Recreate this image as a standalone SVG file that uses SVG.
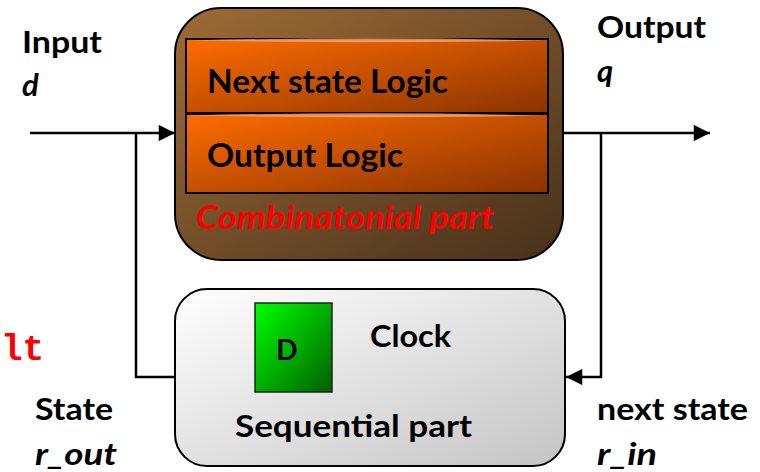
<svg xmlns="http://www.w3.org/2000/svg" width="760" height="472" viewBox="0 0 760 472">
  <defs>
    <linearGradient id="gBrown" x1="0" y1="0" x2="1" y2="1">
      <stop offset="0" stop-color="#9e6c36"/>
      <stop offset="1" stop-color="#47301a"/>
    </linearGradient>
    <linearGradient id="gOrange" x1="0" y1="0" x2="1" y2="1">
      <stop offset="0" stop-color="#ff6c00"/>
      <stop offset="1" stop-color="#8a3300"/>
    </linearGradient>
    <linearGradient id="gGray" x1="0" y1="0" x2="1" y2="1">
      <stop offset="0" stop-color="#ffffff"/>
      <stop offset="1" stop-color="#c4c4c4"/>
    </linearGradient>
    <linearGradient id="gGreen" x1="0" y1="0" x2="1" y2="1">
      <stop offset="0" stop-color="#00ff00"/>
      <stop offset="1" stop-color="#006000"/>
    </linearGradient>
    <marker id="arrow" viewBox="0 0 10 10" refX="10" refY="5" markerWidth="7" markerHeight="6.5" markerUnits="strokeWidth" orient="auto">
      <path d="M0,0 L10,5 L0,10 Z" fill="#000"/>
    </marker>
  </defs>
  <style>
    .lbl { font-family: Lato, "Open Sans", "Liberation Sans", sans-serif; font-weight: bold; font-size: 31px; fill: #000; }
    .it { font-style: italic; }
    .big { font-size: 33px; }
    .red { fill: #ff0000; }
    .wire { fill: none; stroke: #000; stroke-width: 2.5; }
    .shell { stroke: #000; stroke-width: 2; }
    .layer { fill: url(#gOrange); stroke: #000; stroke-width: 2; }
    .rim { fill: #f2a56a; opacity: 0.85; }
  </style>

  <rect width="760" height="472" fill="#fff"/>

  <!-- code fragment at the left margin -->
  <text x="1" y="360" font-family="'Liberation Mono', 'Courier New', monospace" font-weight="bold" font-size="36" fill="#ff0000">lt</text>

  <!-- wires -->
  <g id="connectors">
    <path class="wire" d="M30,133 H175" marker-end="url(#arrow)"/>
    <path class="wire" d="M136,133 V377 H175"/>
    <path class="wire" d="M563,133 H710" marker-end="url(#arrow)"/>
    <path class="wire" d="M601,133 V377 H566" marker-end="url(#arrow)"/>
  </g>

  <!-- combinational block -->
  <g id="combinational">
    <rect class="shell" x="175" y="8" width="388" height="252" rx="46" ry="46" fill="url(#gBrown)"/>
    <g id="next-state-logic">
      <rect class="layer" x="186" y="39" width="362" height="74"/>
      <path class="rim" d="M188,40.5 Q367,36 546,40.5 Q367,44 188,40.5 Z"/>
      <text class="lbl big" x="207" y="93" textLength="241" lengthAdjust="spacingAndGlyphs">Next state Logic</text>
    </g>
    <g id="output-logic">
      <rect class="layer" x="186" y="114" width="362" height="79"/>
      <path class="rim" d="M188,115.5 Q367,111 546,115.5 Q367,119 188,115.5 Z"/>
      <text class="lbl big" x="207" y="167" textLength="196" lengthAdjust="spacingAndGlyphs">Output Logic</text>
    </g>
    <text class="lbl big it red" x="196" y="229" textLength="298" lengthAdjust="spacingAndGlyphs">Combinatonial part</text>
  </g>

  <!-- sequential block -->
  <g id="sequential">
    <rect class="shell" x="175" y="289" width="390" height="177" rx="32" ry="32" fill="url(#gGray)"/>
    <g id="d-register">
      <rect x="255" y="303" width="77" height="89" fill="url(#gGreen)" stroke="#222" stroke-width="1.5"/>
      <text class="lbl" x="287" y="360" text-anchor="middle" style="font-size:28px">D</text>
    </g>
    <text class="lbl" x="370" y="347" textLength="81" lengthAdjust="spacingAndGlyphs">Clock</text>
    <text class="lbl" x="235" y="437" textLength="237" lengthAdjust="spacingAndGlyphs">Sequential part</text>
  </g>

  <!-- port labels -->
  <g id="input-label">
    <text class="lbl" x="22" y="53" textLength="80" lengthAdjust="spacingAndGlyphs">Input</text>
    <text class="lbl it" x="22" y="96">d</text>
  </g>
  <g id="output-label">
    <text class="lbl" x="597" y="38" textLength="109" lengthAdjust="spacingAndGlyphs">Output</text>
    <text class="lbl it" x="597" y="82">q</text>
  </g>
  <g id="state-label">
    <text class="lbl" x="35" y="420" textLength="78" lengthAdjust="spacingAndGlyphs">State</text>
    <text class="lbl it" x="35" y="465" textLength="82" lengthAdjust="spacingAndGlyphs">r_out</text>
  </g>
  <g id="next-state-label">
    <text class="lbl" x="597" y="420" textLength="151" lengthAdjust="spacingAndGlyphs">next state</text>
    <text class="lbl it" x="597" y="465" textLength="60" lengthAdjust="spacingAndGlyphs">r_in</text>
  </g>
</svg>
